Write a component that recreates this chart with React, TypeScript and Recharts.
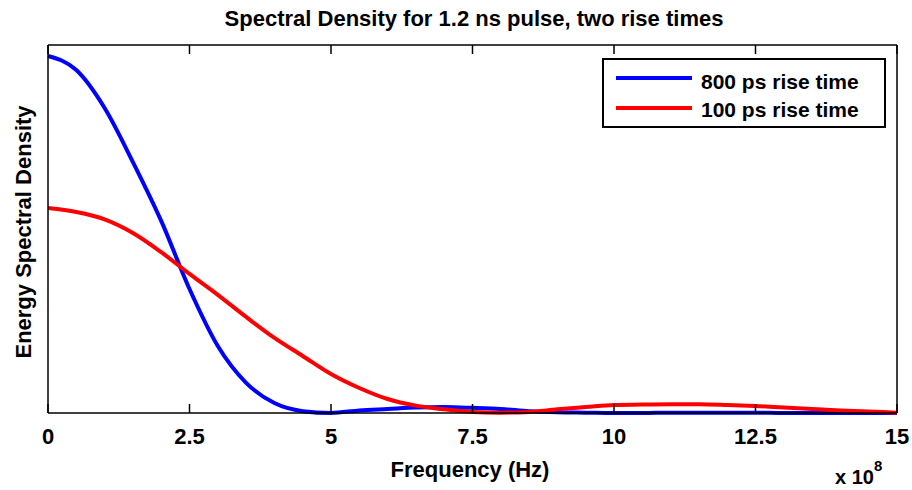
import { LineChart, Line, XAxis, YAxis, Legend } from "recharts"

const freqs = [0, 0.5, 1, 1.5, 2, 2.5, 3, 3.5, 4, 4.5, 5, 5.5, 6, 6.5, 7, 7.5, 8, 8.5, 9, 9.5, 10, 10.5, 11, 11.5, 12, 12.5, 13, 13.5, 14, 14.5, 15]
const rise800 = [0.97, 0.932, 0.829, 0.682, 0.522, 0.337, 0.182, 0.082, 0.027, 0.005, 0.0, 0.007, 0.011, 0.015, 0.016, 0.014, 0.011, 0.005, 0.002, 0.001, 0.0, 0.0, 0.001, 0.001, 0.001, 0.001, 0.0, 0.0, 0.0, 0.0, 0.0]
const rise100 = [0.557, 0.546, 0.526, 0.489, 0.437, 0.378, 0.321, 0.261, 0.204, 0.155, 0.106, 0.068, 0.038, 0.02, 0.01, 0.003, 0.001, 0.003, 0.01, 0.016, 0.022, 0.023, 0.024, 0.024, 0.022, 0.019, 0.015, 0.011, 0.007, 0.004, 0.001]
const xTicks = [0, 2.5, 5, 7.5, 10, 12.5, 15]

const series = [
  { key: "r800", name: "800 ps rise time", color: "#0000ff" },
  { key: "r100", name: "100 ps rise time", color: "#ff0000" },
]

const data = freqs.map((f, i) => ({ f, r800: rise800[i], r100: rise100[i] }))

const FONT = "'Liberation Sans', Arial, Helvetica, sans-serif"
const PLOT_TOP = 45

const BottomTick = (props: any) => {
  const { x, y, payload } = props
  return (
    <g>
      <line x1={x} x2={x} y1={y} y2={y - 9} stroke="#000" strokeWidth={1.5} />
      <text x={x} y={y + 31} textAnchor="middle" fontSize={22} fontWeight="bold" fontFamily={FONT} fill="#000">
        {String(payload.value)}
      </text>
    </g>
  )
}

// inward tick marks on the top edge of the box
const TopTick = (props: any) => {
  const { x } = props
  return <line x1={x} x2={x} y1={PLOT_TOP} y2={PLOT_TOP + 9} stroke="#000" strokeWidth={1.5} />
}

const LegendBox = () => (
  <svg width={284} height={70} style={{ display: "block" }}>
    <rect x={1} y={1} width={282} height={68} fill="#fff" stroke="#000" strokeWidth={2} />
    {series.map((s, i) => (
      <g key={s.key}>
        <line x1={14} x2={90} y1={20 + i * 30} y2={20 + i * 30} stroke={s.color} strokeWidth={4} />
        <text x={99} y={31 + i * 28} fontSize={21} fontWeight="bold" fontFamily={FONT} fill="#000">
          {s.name}
        </text>
      </g>
    ))}
  </svg>
)

const axisStroke = { stroke: "#000", strokeWidth: 1.5 }

export default function App() {
  return (
    <div style={{ position: "absolute", left: 0, top: 0, width: 912, height: 490, background: "#fff" }}>
      <LineChart width={912} height={490} data={data} margin={{ top: 44, right: 14, bottom: 0, left: 47 }}>
        <XAxis
          dataKey="f"
          type="number"
          domain={[0, 15]}
          ticks={xTicks}
          interval={0}
          height={77}
          tickSize={0}
          tickMargin={0}
          tick={<BottomTick />}
          axisLine={axisStroke}
          tickLine={false}
        />
        <XAxis
          xAxisId="top"
          orientation="top"
          dataKey="f"
          type="number"
          domain={[0, 15]}
          ticks={xTicks}
          interval={0}
          height={1}
          tickSize={0}
          tickMargin={0}
          tick={<TopTick />}
          axisLine={axisStroke}
          tickLine={false}
        />
        <YAxis type="number" domain={[0, 1]} width={1} tick={false} tickLine={false} axisLine={axisStroke} />
        <YAxis yAxisId="right" orientation="right" type="number" domain={[0, 1]} width={1} tick={false} tickLine={false} axisLine={axisStroke} />
        <Legend
          layout="vertical"
          align="center"
          verticalAlign="middle"
          wrapperStyle={{ position: "absolute", left: 602, top: 58, width: 284, height: 70 }}
          content={() => <LegendBox />}
        />
        {/* invisible series so the box axes (top / right) get drawn */}
        <Line xAxisId="top" yAxisId="right" dataKey="r800" stroke="none" strokeWidth={0} dot={false} legendType="none" isAnimationActive={false} />
        {series.map((s) => (
          <Line key={s.key} dataKey={s.key} name={s.name} type="monotone" stroke={s.color} strokeWidth={4} dot={false} isAnimationActive={false} />
        ))}
      </LineChart>
      <svg width={912} height={490} style={{ position: "absolute", left: 0, top: 0, pointerEvents: "none" }}>
        <text x={474} y={26} textAnchor="middle" fontSize={22} fontWeight="bold" fontFamily={FONT} fill="#000">
          Spectral Density for 1.2 ns pulse, two rise times
        </text>
        <text x={470} y={477} textAnchor="middle" fontSize={22} fontWeight="bold" fontFamily={FONT} fill="#000">
          Frequency (Hz)
        </text>
        <text transform="translate(31,232) rotate(-90)" textAnchor="middle" fontSize={22} fontWeight="bold" fontFamily={FONT} fill="#000">
          Energy Spectral Density
        </text>
        <text x={835} y={484} fontSize={20} fontWeight="bold" fontFamily={FONT} fill="#000">
          x 10
          <tspan dy={-13} fontSize={15}>8</tspan>
        </text>
      </svg>
    </div>
  )
}
